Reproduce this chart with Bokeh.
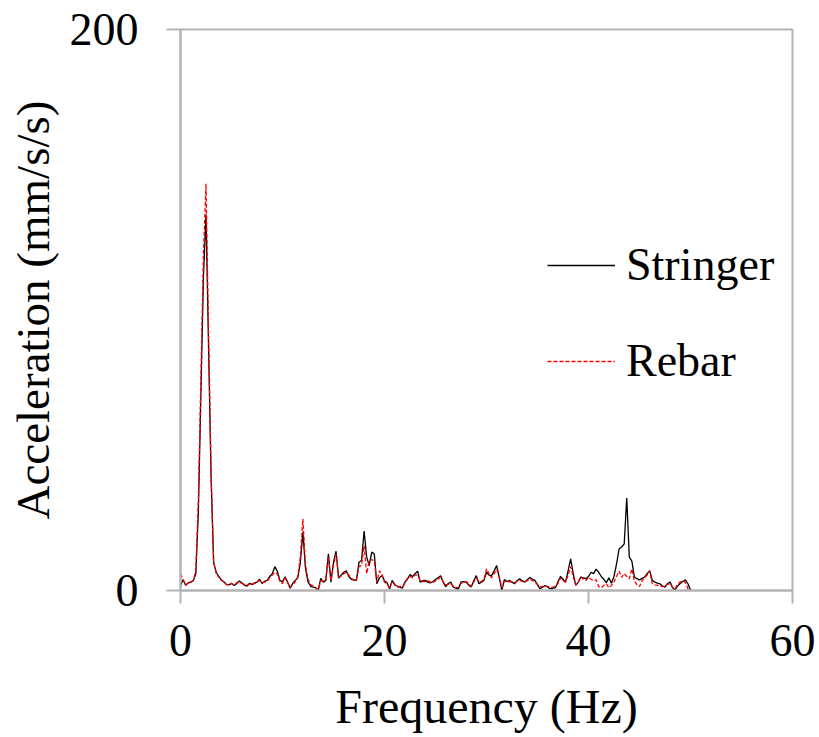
import numpy as np
from bokeh.plotting import figure
from bokeh.models import Range1d, FixedTicker, Legend, LegendItem
from bokeh.embed import file_html
from bokeh.resources import INLINE

# Frequency grid (Hz), 0.25 Hz resolution
freq = np.arange(0, 201) * 0.25

stringer = [
    1.8, 3.9, 1.9, 2.7, 3.0, 3.5, 6.0, 28,
    70, 112, 134, 87, 40, 10, 6.5, 5.0,
    3.8, 3.0, 2.2, 2.0, 2.5, 1.8, 2.4, 3.4,
    2.8, 2.0, 1.5, 2.5, 2.2, 2.6, 3.0, 4.0,
    2.5, 3.3, 3.6, 5.0, 6.0, 8.5, 6.8, 3.5,
    3.2, 4.9, 3.0, 0.8, 2.5, 3.6, 4.5, 10,
    20.8, 8.0, 3.1, 1.5, 1.2, 1.0, 0.0, 4.3,
    3.0, 3.6, 13.1, 3.0, 10.0, 14.0, 4.4, 5.5,
    6.5, 7.0, 5.0, 4.0, 3.8, 3.6, 10.1, 10.7,
    21.2, 12.0, 8.9, 13.7, 13.0, 2.4, 4.5, 5.3,
    3.5, 2.8, 0.6, 3.6, 2.0, 1.6, 1.2, 0.8,
    3.0, 4.0, 5.7, 5.0, 6.0, 6.9, 3.0, 3.5,
    3.6, 3.0, 2.7, 3.2, 3.9, 4.5, 5.3, 3.0,
    1.4, 2.5, 3.0, 1.2, 0.8, 0.6, 3.0, 3.2,
    3.0, 2.0, 1.2, 3.5, 5.3, 2.4, 3.0, 3.6,
    6.5, 5.5, 5.3, 7.0, 8.9, 4.7, 0.0, 3.9,
    3.2, 3.6, 3.0, 2.4, 3.5, 4.2, 3.5, 3.0,
    3.8, 4.6, 4.0, 3.6, 2.0, 0.6, 1.2, 1.8,
    1.2, 0.6, 0.8, 1.0, 3.0, 5.0, 4.0, 3.0,
    7.0, 11.3, 6.0, 1.8, 3.0, 4.8, 4.5, 4.2,
    5.0, 6.5, 6.0, 7.6, 6.5, 5.0, 4.0, 2.8,
    4.5, 2.6, 5.0, 9.5, 14.8, 15.5, 16.6, 33.0,
    11.9, 10.5, 4.8, 4.2, 3.8, 4.3, 4.8, 6.0,
    7.0, 3.6, 3.0, 2.6, 2.4, 1.6, 1.2, 2.5,
    3.0, 1.0, 0.2, 1.7, 2.5, 3.2, 3.8, 2.4,
    0.2,
]

rebar = [
    5.9, 3.9, 2.0, 2.6, 3.0, 3.6, 7.0, 32,
    76, 120, 145, 92, 42, 10, 6.0, 4.8,
    3.6, 3.2, 2.0, 2.2, 2.6, 2.0, 2.8, 3.0,
    2.5, 2.2, 1.8, 2.2, 2.5, 2.4, 3.2, 3.5,
    2.8, 3.0, 3.4, 4.5, 5.5, 6.5, 6.0, 3.0,
    2.5, 4.5, 2.8, 1.0, 2.0, 3.2, 5.0, 12,
    25.5, 9.0, 4.0, 2.2, 1.5, 0.8, 0.3, 3.5,
    3.4, 4.0, 12.0, 3.5, 9.0, 13.0, 5.0, 5.0,
    6.0, 6.5, 5.5, 4.5, 3.5, 4.0, 8.5, 9.0,
    16.0, 6.0, 10.5, 11.0, 10.5, 3.0, 7.0, 5.8,
    3.0, 2.2, 1.0, 3.0, 2.4, 1.0, 1.5, 1.2,
    2.5, 4.5, 5.0, 4.5, 5.5, 5.5, 3.5, 3.2,
    3.2, 3.5, 3.0, 2.8, 3.5, 4.0, 4.8, 3.2,
    2.0, 2.2, 2.5, 1.5, 1.2, 1.0, 2.5, 3.0,
    3.2, 2.5, 1.5, 3.0, 4.5, 3.0, 3.2, 4.0,
    7.7, 6.0, 4.5, 6.0, 7.5, 5.0, 1.0, 3.2,
    3.5, 3.0, 3.2, 2.8, 3.2, 3.6, 3.2, 3.0,
    3.5, 4.0, 3.6, 3.0, 2.2, 1.2, 1.5, 1.5,
    1.5, 1.0, 1.2, 1.5, 2.5, 4.5, 3.5, 3.0,
    5.5, 8.5, 5.0, 2.0, 3.0, 4.9, 4.0, 3.5,
    4.7, 4.0, 3.5, 3.8, 1.4, 1.0, 1.8, 2.4,
    1.0, 1.8, 3.0, 5.0, 6.9, 4.7, 6.0, 5.0,
    4.2, 7.7, 3.5, 2.0, 1.4, 3.5, 4.5, 5.5,
    7.1, 2.4, 2.0, 1.8, 1.6, 1.4, 1.6, 2.2,
    2.4, 1.0, 0.6, 2.4, 3.0, 3.5, 2.9, 0.6,
    0.3,
]

x_ticks = [0, 20, 40, 60]
y_ticks = [0, 200]
series_names = ["Stringer", "Rebar"]

FONT = "Liberation Serif"
AXIS_GRAY = "#b3b3b3"

p = figure(width=819, height=737, output_backend="svg", toolbar_location=None,
           x_range=Range1d(0, 60), y_range=Range1d(0, 200),
           min_border_left=180, min_border_right=27, min_border_top=29,
           min_border_bottom=147)

p.xgrid.visible = False
p.ygrid.visible = False
p.outline_line_color = AXIS_GRAY
p.outline_line_width = 2
p.background_fill_color = "white"
p.border_fill_color = "white"

r1 = p.line(freq, stringer, line_color="black", line_width=1.3)
r2 = p.line(freq, rebar, line_color="#ff0000", line_width=1.3, line_dash="4 2")

for ax in (p.xaxis[0], p.yaxis[0]):
    ax.axis_line_color = AXIS_GRAY
    ax.axis_line_width = 2
    ax.major_tick_line_color = AXIS_GRAY
    ax.major_tick_line_width = 2
    ax.major_tick_in = 0
    ax.minor_tick_line_color = None
    ax.major_label_text_font = FONT
    ax.major_label_text_font_size = "46px"
    ax.major_label_text_color = "black"
    ax.axis_label_text_font = FONT
    ax.axis_label_text_font_size = "47px"
    ax.axis_label_text_font_style = "normal"
    ax.axis_label_text_color = "black"

p.xaxis.axis_label_text_font_size = "48px"
p.xaxis.ticker = FixedTicker(ticks=x_ticks)
p.yaxis.ticker = FixedTicker(ticks=y_ticks)
p.xaxis.major_tick_out = 13
p.yaxis.major_tick_out = 14
p.xaxis.major_label_standoff = 21
p.yaxis.major_label_standoff = 28
p.xaxis.axis_label = "Frequency (Hz)"
p.yaxis.axis_label = "Acceleration (mm/s/s)"
p.xaxis.axis_label_standoff = 21
p.yaxis.axis_label_standoff = 8

legend = Legend(items=[LegendItem(label=series_names[0], renderers=[r1]),
                       LegendItem(label=series_names[1], renderers=[r2])],
                location=(367, 203))
legend.border_line_color = None
legend.background_fill_alpha = 0
legend.label_text_font = FONT
legend.label_text_font_size = "46px"
legend.label_text_color = "black"
legend.glyph_width = 68
legend.label_standoff = 11
legend.spacing = 43
legend.padding = 10
p.add_layout(legend, "center")

open("out.html", "w").write(file_html(p, INLINE))
